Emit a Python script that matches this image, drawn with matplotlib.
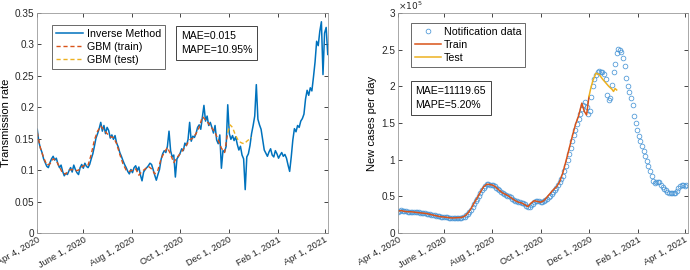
import numpy as np
import matplotlib
matplotlib.use('Agg')
import matplotlib.pyplot as plt
import datetime as dt

plt.rcParams['font.family'] = ['Liberation Sans', 'DejaVu Sans']

start = dt.date(2020, 4, 4)

# ---- left panel: transmission rate (every 2 days) ----
beta_days = list(range(0, 367, 2))
beta_inv = [0.165, 0.145, 0.135, 0.128, 0.118, 0.112, 0.106, 0.104, 0.112, 0.118,
            0.122, 0.116, 0.119, 0.110, 0.104, 0.108, 0.098, 0.091, 0.095, 0.093,
            0.099, 0.104, 0.097, 0.108, 0.101, 0.096, 0.093, 0.104, 0.109, 0.103,
            0.111, 0.106, 0.104, 0.109, 0.118, 0.126, 0.138, 0.151, 0.158, 0.166,
            0.176, 0.162, 0.171, 0.158, 0.168, 0.163, 0.151, 0.156, 0.149, 0.155,
            0.143, 0.137, 0.128, 0.122, 0.115, 0.109, 0.104, 0.098, 0.094, 0.101,
            0.096, 0.104, 0.107, 0.099, 0.105, 0.092, 0.083, 0.097, 0.101, 0.104,
            0.107, 0.111, 0.109, 0.101, 0.092, 0.084, 0.093, 0.101, 0.117, 0.126,
            0.131, 0.128, 0.138, 0.162, 0.131, 0.121, 0.124, 0.089, 0.118, 0.122,
            0.127, 0.134, 0.131, 0.143, 0.139, 0.149, 0.176, 0.146, 0.154, 0.152,
            0.158, 0.168, 0.172, 0.165, 0.184, 0.203, 0.178, 0.186, 0.171, 0.176,
            0.168, 0.159, 0.171, 0.148, 0.142, 0.156, 0.103, 0.131, 0.129, 0.138,
            0.204, 0.158, 0.149, 0.155, 0.147, 0.153, 0.141, 0.132, 0.138, 0.124,
            0.118, 0.069, 0.121, 0.126, 0.139, 0.158, 0.171, 0.186, 0.236, 0.181,
            0.172, 0.165, 0.148, 0.132, 0.127, 0.122, 0.129, 0.134, 0.124, 0.121,
            0.131, 0.126, 0.119, 0.124, 0.128, 0.122, 0.125, 0.119, 0.108, 0.098,
            0.121, 0.148, 0.166, 0.161, 0.171, 0.168, 0.178, 0.182, 0.189, 0.213,
            0.227, 0.219, 0.231, 0.226, 0.248, 0.272, 0.305, 0.298, 0.321, 0.336,
            0.252, 0.318, 0.327, 0.284]

gbm_train_days = list(range(0, 241, 4))
gbm_train = [0.16, 0.135, 0.12, 0.108, 0.11, 0.118, 0.115, 0.105, 0.095, 0.094,
             0.1, 0.101, 0.099, 0.1, 0.105, 0.108, 0.108, 0.125, 0.148, 0.162,
             0.17, 0.164, 0.158, 0.153, 0.152, 0.142, 0.125, 0.11, 0.1, 0.098,
             0.1, 0.102, 0.092, 0.098, 0.102, 0.106, 0.102, 0.094, 0.1, 0.118,
             0.128, 0.136, 0.125, 0.112, 0.12, 0.126, 0.133, 0.14, 0.148, 0.151,
             0.158, 0.168, 0.185, 0.18, 0.174, 0.167, 0.16, 0.148, 0.135, 0.128,
             0.16]
gbm_test_days = [240, 243, 246, 249, 252, 255, 258, 261, 264, 267, 270]
gbm_test = [0.16, 0.172, 0.168, 0.158, 0.15, 0.145, 0.143, 0.142, 0.146, 0.149, 0.152]

# ---- right panel: new cases per day (x1e5, every 2 days) ----
case_days = list(range(0, 365, 2))
cases = [0.29, 0.30, 0.31, 0.305, 0.30, 0.295, 0.29, 0.285, 0.29, 0.29,
         0.29, 0.285, 0.28, 0.28, 0.275, 0.275, 0.27, 0.27, 0.265, 0.26,
         0.255, 0.25, 0.245, 0.24, 0.235, 0.23, 0.228, 0.225, 0.22, 0.218,
         0.215, 0.212, 0.21, 0.208, 0.205, 0.205, 0.207, 0.21, 0.21, 0.208,
         0.21, 0.215, 0.225, 0.24, 0.26, 0.29, 0.32, 0.36, 0.40, 0.435,
         0.47, 0.51, 0.55, 0.585, 0.62, 0.645, 0.665, 0.665, 0.66, 0.66,
         0.65, 0.635, 0.62, 0.60, 0.58, 0.56, 0.54, 0.53, 0.52, 0.51,
         0.50, 0.485, 0.47, 0.455, 0.44, 0.43, 0.42, 0.42, 0.415, 0.41,
         0.39, 0.37, 0.355, 0.36, 0.38, 0.40, 0.425, 0.435, 0.44, 0.43,
         0.42, 0.425, 0.43, 0.445, 0.46, 0.485, 0.51, 0.535, 0.56, 0.59,
         0.62, 0.65, 0.69, 0.73, 0.78, 0.84, 0.91, 0.99, 1.08, 1.16,
         1.25, 1.33, 1.41, 1.48, 1.55, 1.62, 1.69, 1.74, 1.78, 1.72,
         1.62, 1.66, 1.85, 2.0, 2.1, 2.16, 2.2, 2.21, 2.2, 2.19,
         2.17, 2.1, 1.88, 1.82, 1.84, 2.02, 2.2, 2.3, 2.45, 2.51,
         2.50, 2.47, 2.38, 2.28, 2.12, 2.0, 1.92, 1.84, 1.74, 1.6,
         1.5, 1.4, 1.32, 1.25, 1.18, 1.12, 1.05, 0.98, 0.92, 0.84,
         0.78, 0.71, 0.68, 0.69, 0.70, 0.69, 0.66, 0.63, 0.60, 0.58,
         0.56, 0.55, 0.54, 0.545, 0.55, 0.545, 0.57, 0.61, 0.645, 0.66,
         0.65, 0.64, 0.65]

train_days = list(range(0, 229, 4)) + [232, 235, 238, 241]
train = [0.30, 0.305, 0.295, 0.29, 0.29, 0.285, 0.28, 0.275, 0.27, 0.265,
         0.255, 0.245, 0.235, 0.225, 0.22, 0.215, 0.21, 0.205, 0.207, 0.21,
         0.212, 0.23, 0.27, 0.33, 0.41, 0.48, 0.56, 0.63, 0.665, 0.662,
         0.65, 0.62, 0.58, 0.545, 0.525, 0.5, 0.47, 0.44, 0.42, 0.41,
         0.385, 0.36, 0.41, 0.44, 0.43, 0.42, 0.44, 0.49, 0.54, 0.59,
         0.63, 0.7, 0.82, 0.98, 1.15, 1.32, 1.48, 1.6,
         1.77, 1.66, 1.61, 1.86]
test_days = [241, 243, 246, 250, 254, 258, 262, 266, 270, 272, 274, 276]
test = [1.86, 1.96, 2.08, 2.18, 2.16, 2.1, 2.05, 2.0, 1.96, 1.93, 1.97, 1.95]

tick_dates = [dt.date(2020, 4, 4), dt.date(2020, 6, 1), dt.date(2020, 8, 1),
              dt.date(2020, 10, 1), dt.date(2020, 12, 1), dt.date(2021, 2, 1),
              dt.date(2021, 4, 1)]
tick_labels = ['Apr 4, 2020', 'June 1, 2020', 'Aug 1, 2020', 'Oct 1, 2020',
               'Dec 1, 2020', 'Feb 1, 2021', 'Apr 1, 2021']

blue = '#0072BD'
orange = '#D95319'
yellow = '#EDB120'


def to_dates(days):
    return [start + dt.timedelta(days=d) for d in days]


def style_axes(ax):
    ax.set_xlim(start, start + dt.timedelta(days=366))
    ax.set_xticks(tick_dates)
    ax.set_xticklabels(tick_labels, rotation=30, ha='right', va='top',
                       rotation_mode='anchor')
    ax.tick_params(direction='in', length=3, width=0.6, labelsize=7.2,
                   colors='#262626', top=True, right=True, pad=2)
    ax.tick_params(axis='x', pad=1.5, labelsize=6.7)
    for s in ax.spines.values():
        s.set_color('#9a9a9a')
        s.set_linewidth(0.6)


fig = plt.figure(figsize=(6.9, 2.7), dpi=100)

ax1 = fig.add_axes([0.054, 0.137, 0.421, 0.815])
ax1.plot(to_dates(beta_days), beta_inv, color=blue, lw=1.1, label='Inverse Method')
ax1.plot(to_dates(gbm_train_days), gbm_train, color=orange, lw=1.0, ls=(0, (3, 2)),
         label='GBM (train)')
ax1.plot(to_dates(gbm_test_days), gbm_test, color=yellow, lw=1.0, ls=(0, (3, 2)),
         label='GBM (test)')
ax1.set_ylim(0, 0.35)
ax1.set_yticks([0, 0.05, 0.1, 0.15, 0.2, 0.25, 0.3, 0.35])
ax1.set_yticklabels(['0', '0.05', '0.1', '0.15', '0.2', '0.25', '0.3', '0.35'])
ax1.set_ylabel('Transmission rate', fontsize=8, labelpad=3)
style_axes(ax1)
leg1 = ax1.legend(loc='upper left', bbox_to_anchor=(0.05, 0.945), fontsize=7.7,
                  fancybox=False, edgecolor='#262626', handlelength=2.6,
                  borderpad=0.35, labelspacing=0.3, handletextpad=0.3,
                  borderaxespad=0.0)
leg1.get_frame().set_linewidth(0.6)
ax1.text(0.495, 0.918, 'MAE=0.015\nMAPE=10.95%', transform=ax1.transAxes,
         fontsize=7.6, va='top', ha='left', linespacing=1.55,
         bbox=dict(boxstyle='square,pad=0.45', fc='white', ec='#262626', lw=0.6))

ax2 = fig.add_axes([0.577, 0.137, 0.42, 0.815])
ax2.plot(to_dates(case_days), cases, ls='none', marker='o', ms=3.4, mfc='none',
         mec='#4a96d6', mew=0.55, label='Notification data')
ax2.plot(to_dates(train_days), train, color=orange, lw=1.1, label='Train')
ax2.plot(to_dates(test_days), test, color=yellow, lw=1.1, label='Test')
ax2.set_ylim(0, 3)
ax2.set_yticks([0, 0.5, 1, 1.5, 2, 2.5, 3])
ax2.set_yticklabels(['0', '0.5', '1', '1.5', '2', '2.5', '3'])
ax2.set_ylabel('New cases per day', fontsize=8, labelpad=3)
style_axes(ax2)
ax2.text(0.0, 1.005, r'$\times10^5$', transform=ax2.transAxes, fontsize=6.5,
         va='bottom', ha='left', color='#262626')
leg2 = ax2.legend(loc='upper left', bbox_to_anchor=(0.045, 0.955), fontsize=7.7,
                  fancybox=False, edgecolor='#262626', handlelength=2.4,
                  borderpad=0.35, labelspacing=0.3, handletextpad=0.3,
                  borderaxespad=0.0)
leg2.get_frame().set_linewidth(0.6)
ax2.text(0.06, 0.67, 'MAE=11119.65\nMAPE=5.20%', transform=ax2.transAxes,
         fontsize=7.6, va='top', ha='left', linespacing=1.55,
         bbox=dict(boxstyle='square,pad=0.45', fc='white', ec='#262626', lw=0.6))

fig.savefig('out.png', dpi=100)
